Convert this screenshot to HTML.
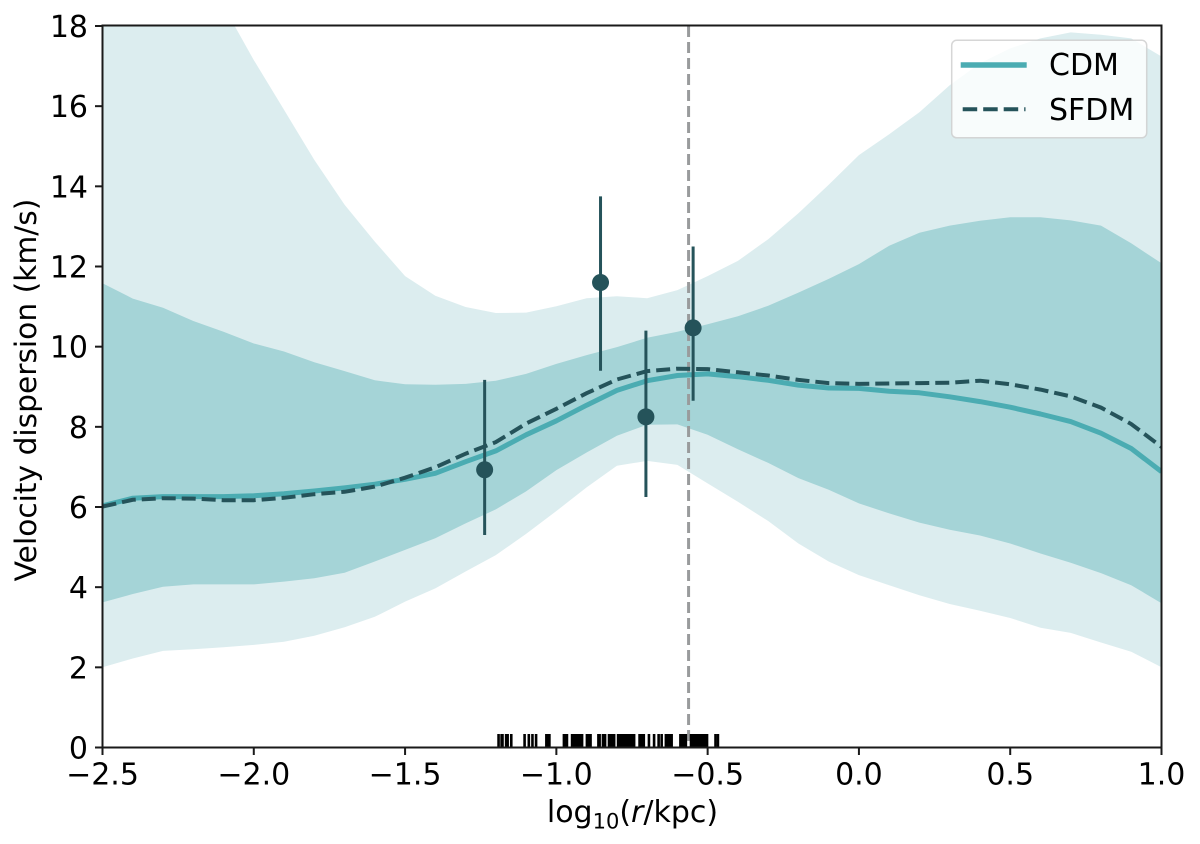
<!DOCTYPE html>
<html lang="en">
<head>
<meta charset="utf-8">
<title>Velocity dispersion profile</title>
<style>
html,body{margin:0;padding:0;background:#fff;}
svg{display:block;}
text{font-family:"DejaVu Sans","Liberation Sans",sans-serif;fill:#000;}
</style>
</head>
<body>
<svg id="chart" xmlns="http://www.w3.org/2000/svg" width="1200" height="844" viewBox="0 0 1200 844">
  <defs>
    <clipPath id="plot-clip"><rect x="102.5" y="26" width="1059" height="721.5"></rect></clipPath>
  </defs>
  <g id="plot" clip-path="url(#plot-clip)"></g>
  <g id="spines"></g>
  <g id="xticks"></g>
  <g id="yticks"></g>
  <text x="632.5" y="822" font-size="30" text-anchor="middle">log<tspan font-size="21" dy="6.5">10</tspan><tspan dy="-6.5">(</tspan><tspan font-style="italic">r</tspan>/kpc)</text>
  <text transform="translate(36,390) rotate(-90)" font-size="29.7" text-anchor="middle">Velocity dispersion (km/s)</text>
  <g>
    <rect x="951.7" y="40.3" width="195" height="97.5" rx="5" fill="#fff" fill-opacity="0.8" stroke="#ccc" stroke-opacity="0.8" stroke-width="1.5"></rect>
    <line x1="960.7" y1="65" x2="1026.7" y2="65" stroke="#4bacb2" stroke-width="5.5"></line>
    <text x="1049" y="75" font-size="30">CDM</text>
    <line x1="962.7" y1="109.3" x2="1025.5" y2="109.3" stroke="#25535a" stroke-width="4" stroke-dasharray="14.5 6"></line>
    <text x="1049" y="120" font-size="30">SFDM</text>
  </g>
</svg>
<script>
const radiusGrid = [-2.5,-2.4,-2.3,-2.2,-2.1,-2.0,-1.9,-1.8,-1.7,-1.6,-1.5,-1.4,-1.3,-1.2,-1.1,-1.0,-0.9,-0.8,-0.7,-0.6,-0.5,-0.4,-0.3,-0.2,-0.1,0,0.1,0.2,0.3,0.4,0.5,0.6,0.7,0.8,0.9,1.0];
const outerUpper = [24,22.6,21.2,19.9,18.5,17.15,15.91,14.66,13.54,12.62,11.76,11.27,10.99,10.84,10.85,11.01,11.21,11.26,11.21,11.41,11.76,12.14,12.68,13.33,14.04,14.78,15.3,15.85,16.52,17.07,17.44,17.69,17.84,17.78,17.69,17.24];
const outerLower = [2.0,2.22,2.41,2.45,2.5,2.56,2.64,2.79,3.0,3.26,3.64,3.97,4.39,4.8,5.33,5.9,6.49,7.03,7.15,7.05,6.59,6.13,5.65,5.09,4.64,4.3,4.05,3.8,3.58,3.41,3.23,2.99,2.86,2.62,2.39,2.0];
const innerUpper = [11.58,11.2,10.97,10.64,10.37,10.08,9.88,9.61,9.39,9.16,9.06,9.05,9.07,9.15,9.32,9.57,9.79,9.99,10.22,10.37,10.56,10.76,11.02,11.35,11.69,12.06,12.52,12.84,13.02,13.14,13.23,13.23,13.15,13.02,12.58,12.08];
const innerLower = [3.62,3.83,4.01,4.07,4.07,4.07,4.14,4.22,4.36,4.64,4.93,5.22,5.59,5.94,6.39,6.92,7.36,7.78,8.05,8.06,7.8,7.44,7.1,6.72,6.43,6.09,5.84,5.61,5.43,5.29,5.09,4.84,4.61,4.35,4.05,3.6];
const cdmValues = [6.03,6.22,6.26,6.26,6.26,6.28,6.33,6.4,6.48,6.57,6.69,6.84,7.13,7.4,7.8,8.15,8.54,8.91,9.15,9.28,9.32,9.25,9.16,9.04,8.97,8.96,8.89,8.85,8.75,8.63,8.49,8.32,8.13,7.84,7.46,6.88];
const sfdmValues = [6.01,6.18,6.22,6.21,6.17,6.17,6.23,6.32,6.38,6.51,6.73,6.99,7.33,7.62,8.08,8.45,8.84,9.18,9.39,9.45,9.44,9.36,9.28,9.17,9.09,9.07,9.08,9.09,9.1,9.15,9.06,8.93,8.76,8.48,8.07,7.5];
const obsRadius = [-1.237,-0.854,-0.704,-0.548];
const obsValue = [6.93,11.6,8.25,10.47];
const obsLow = [5.3,9.4,6.25,8.65];
const obsHigh = [9.17,13.75,10.4,12.5];
const halfLightRadius = -0.563;
const rugRadii = [-1.191,-1.181,-1.178,-1.166,-1.161,-1.149,-1.105,-1.091,-1.079,-1.067,-1.033,-1.028,-1.023,-0.975,-0.970,-0.965,-0.948,-0.942,-0.935,-0.928,-0.922,-0.915,-0.899,-0.894,-0.887,-0.861,-0.857,-0.846,-0.839,-0.826,-0.819,-0.813,-0.809,-0.796,-0.790,-0.783,-0.776,-0.770,-0.763,-0.757,-0.750,-0.743,-0.725,-0.719,-0.711,-0.694,-0.677,-0.662,-0.652,-0.638,-0.631,-0.624,-0.619,-0.590,-0.583,-0.577,-0.572,-0.555,-0.548,-0.542,-0.535,-0.529,-0.522,-0.515,-0.509,-0.502,-0.474,-0.466];
const xTickValues = [-2.5,-2.0,-1.5,-1.0,-0.5,0.0,0.5,1.0];
const xTickLabels = ['\u22122.5','\u22122.0','\u22121.5','\u22121.0','\u22120.5','0.0','0.5','1.0'];
const yTickValues = [0,2,4,6,8,10,12,14,16,18];
const yTickLabels = ['0','2','4','6','8','10','12','14','16','18'];

const NS = 'http://www.w3.org/2000/svg';
const xMin = -2.5, xMax = 1.0, yMin = 0, yMax = 18;
const pxLeft = 102.5, pxRight = 1161.5, pxBottom = 747.5, pxTop = 26;
function xScale(v) { return pxLeft + (v - xMin) / (xMax - xMin) * (pxRight - pxLeft); }
function yScale(v) { return pxBottom - (v - yMin) / (yMax - yMin) * (pxBottom - pxTop); }
function make(tag, attrs, parent) {
  const el = document.createElementNS(NS, tag);
  for (const k in attrs) el.setAttribute(k, attrs[k]);
  parent.appendChild(el);
  return el;
}
function bandPath(xs, hi, lo) {
  const top = xs.map((x, i) => xScale(x).toFixed(1) + ',' + yScale(hi[i]).toFixed(1));
  const bottom = xs.map((x, i) => xScale(x).toFixed(1) + ',' + yScale(lo[i]).toFixed(1)).reverse();
  return 'M' + top.concat(bottom).join('L') + 'Z';
}
function linePath(xs, ys) {
  return 'M' + xs.map((x, i) => xScale(x).toFixed(1) + ',' + yScale(ys[i]).toFixed(1)).join('L');
}

const plot = document.getElementById('plot');
const spines = document.getElementById('spines');
const xAxis = document.getElementById('xticks');
const yAxis = document.getElementById('yticks');

const outerBand = make('path', { d: bandPath(radiusGrid, outerUpper, outerLower), fill: '#dcedef' }, plot);



const innerBand = make('path', { d: bandPath(radiusGrid, innerUpper, innerLower), fill: '#a5d4d7' }, plot);



const vline = make('line', { x1: xScale(halfLightRadius), x2: xScale(halfLightRadius), y1: pxTop, y2: pxBottom, stroke: '#999b9c', 'stroke-width': 3, 'stroke-dasharray': '11 5' }, plot);



const cdmLine = make('path', { d: linePath(radiusGrid, cdmValues), fill: 'none', stroke: '#4bacb2', 'stroke-width': 5, 'stroke-linejoin': 'round' }, plot);



const sfdmLine = make('path', { d: linePath(radiusGrid, sfdmValues), fill: 'none', stroke: '#25535a', 'stroke-width': 4, 'stroke-dasharray': '14 6' }, plot);



obsRadius.forEach((r, i) => {
  const bar = make('line', { x1: xScale(r), x2: xScale(r), y1: yScale(obsLow[i]), y2: yScale(obsHigh[i]), stroke: '#25535a', 'stroke-width': 3 }, plot);
  
  
  const dot = make('circle', { cx: xScale(r), cy: yScale(obsValue[i]), r: 8.5, fill: '#25535a' }, plot);
  
  
});

rugRadii.forEach((r) => {
  const tick = make('line', { x1: xScale(r), x2: xScale(r), y1: 734, y2: pxBottom, stroke: '#000', 'stroke-width': 2.6 }, plot);
  
  
});

const frame = make('rect', { x: pxLeft, y: pxTop - 0.5, width: pxRight - pxLeft, height: pxBottom - pxTop + 0.5, fill: 'none', stroke: '#1a1a1a', 'stroke-width': 2 }, spines);



xTickValues.forEach((v, i) => {
  const mark = make('line', { x1: xScale(v), x2: xScale(v), y1: pxBottom, y2: pxBottom + 7.5, stroke: '#1a1a1a', 'stroke-width': 2 }, xAxis);
  
  
  const label = make('text', { x: xScale(v), y: 784.5, 'font-size': 30, 'text-anchor': 'middle' }, xAxis);
  
  
  label.textContent = xTickLabels[i];
});

yTickValues.forEach((v, i) => {
  const mark = make('line', { x1: pxLeft - 7.5, x2: pxLeft, y1: yScale(v), y2: yScale(v), stroke: '#1a1a1a', 'stroke-width': 2 }, yAxis);
  
  
  const label = make('text', { x: 88, y: yScale(v) + 11, 'font-size': 30, 'text-anchor': 'end' }, yAxis);
  
  
  label.textContent = yTickLabels[i];
});
</script>
</body>
</html>
